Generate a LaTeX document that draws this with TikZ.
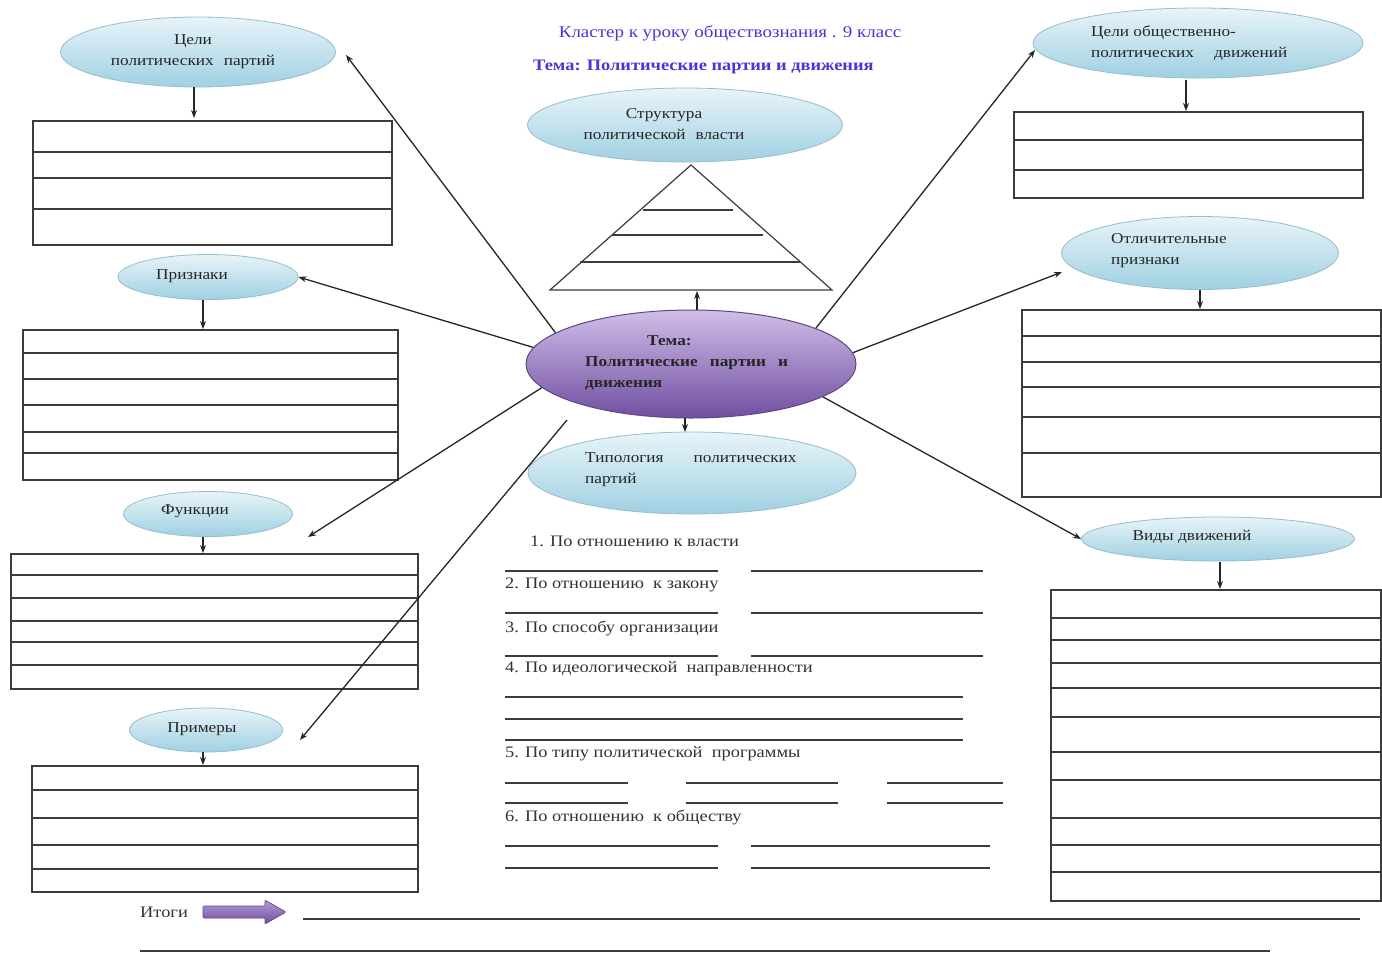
\documentclass[tikz,border=0pt]{standalone}
\usepackage{fontspec}
\setmainfont[FakeStretch=1.15]{Liberation Serif}
\usetikzlibrary{shapes.geometric,arrows.meta}
\definecolor{titleblue}{RGB}{78,52,214}
\definecolor{ellTop}{RGB}{232,244,249}
\definecolor{ellBot}{RGB}{160,208,226}
\definecolor{ellEdge}{RGB}{150,190,205}
\definecolor{purTop}{RGB}{208,190,232}
\definecolor{purBot}{RGB}{112,78,160}
\definecolor{purEdge}{RGB}{95,70,135}
\definecolor{lineg}{RGB}{60,60,60}
\begin{document}
\begin{tikzpicture}[x=1pt,y=-1pt,
  ell/.style={ellipse, draw=ellEdge, line width=0.8pt, top color=ellTop, bottom color=ellBot, inner sep=0pt},
  cell/.style={ellipse, draw=purEdge, line width=1pt, top color=purTop, bottom color=purBot, inner sep=0pt},
  txt/.style={font=\fontsize{15}{21}\selectfont, inner sep=0pt, text=black!85},
  ltxt/.style={font=\fontsize{16}{18}\selectfont, inner sep=0pt, anchor=west, text=black!80},
  arr/.style={-{Stealth[length=8pt,width=6pt]}, line width=1.3pt, black!85},
  tbl/.style={draw=lineg, line width=1.6pt, inner sep=0pt},
  rl/.style={draw=lineg, line width=1.6pt},
  wl/.style={draw=lineg, line width=1.4pt}
]
\useasboundingbox[fill=white] (0,0) rectangle (1382,954);

% titles
\node[font=\fontsize{16.5}{18}\selectfont, text=titleblue, inner sep=0pt] (title1) at (730,33) {Кластер к уроку обществознания . 9 класс};
\node[font=\fontsize{16}{18}\selectfont\bfseries, text=titleblue, inner sep=0pt, anchor=west] (title2) at (533,67) {Тема: Политические партии и движения};

% ellipses
\node[ell, minimum width=275pt, minimum height=70pt] (e1) at (198,52) {};
\node[txt, align=center] (t1) at (193,52) {Цели\\политических\hspace{10pt}партий};
\node[ell, minimum width=180pt, minimum height=45pt] (e2) at (208,277) {};
\node[txt] (t2) at (192,276) {Признаки};
\node[ell, minimum width=169pt, minimum height=45pt] (e3) at (208,514) {};
\node[txt] (t3) at (195,511) {Функции};
\node[ell, minimum width=153pt, minimum height=44pt] (e4) at (206,730) {};
\node[txt] (t4) at (202,729) {Примеры};
\node[ell, minimum width=315pt, minimum height=74pt] (e5) at (685,125) {};
\node[txt, align=center] (t5) at (664,124) {Структура\\политической\hspace{10pt}власти};
\node[cell, minimum width=330pt, minimum height=108pt] (c) at (691,364) {};
\node[txt, align=left, font=\fontsize{15}{21}\selectfont\bfseries, anchor=west] (tc) at (585,363) {\hspace*{62pt}Тема:\\Политические\hspace{12pt}партии\hspace{12pt}и\\движения};
\node[ell, minimum width=328pt, minimum height=82pt] (ty) at (692,473) {};
\node[txt, align=left, anchor=west] (tty) at (585,470) {Типология\hspace{30pt}политических\\партий};
\node[ell, minimum width=330pt, minimum height=70pt] (e8) at (1198,43) {};
\node[txt, align=left, anchor=west] (t8) at (1091,43) {Цели общественно-\\политических\hspace{20pt}движений};
\node[ell, minimum width=277pt, minimum height=73pt] (e9) at (1200,253) {};
\node[txt, align=left, anchor=west] (t9) at (1111,251) {Отличительные\\признаки};
\node[ell, minimum width=273pt, minimum height=44pt] (e10) at (1218,539) {};
\node[txt] (t10) at (1192,537) {Виды движений};

% triangle
\coordinate (tA) at (691,165);
\coordinate (tL) at (550,290);
\coordinate (tR) at (832,290);
\draw[line width=1.2pt, lineg, fill=white] (tA) -- (tL) -- (tR) -- cycle;
\draw[rl] (643,210) -- (733,210);
\draw[rl] (612,235) -- (763,235);
\draw[rl] (580,262) -- (800,262);
\coordinate (tribase) at (697,291);

% tables
\node[tbl, anchor=north west, minimum width=359pt, minimum height=124pt] (tabA) at (32,120) {};
\foreach \y in {152,178,209} \draw[rl] (32,\y) -- (391,\y);
\node[tbl, anchor=north west, minimum width=375pt, minimum height=150pt] (tabB) at (22,329) {};
\foreach \y in {353,379,405,432,453} \draw[rl] (22,\y) -- (397,\y);
\node[tbl, anchor=north west, minimum width=407pt, minimum height=135pt] (tabC) at (10,553) {};
\foreach \y in {575,598,621,642,665} \draw[rl] (10,\y) -- (417,\y);
\node[tbl, anchor=north west, minimum width=386pt, minimum height=126pt] (tabD) at (31,765) {};
\foreach \y in {790,818,845,869} \draw[rl] (31,\y) -- (417,\y);
\node[tbl, anchor=north west, minimum width=349pt, minimum height=86pt] (tabE) at (1013,111) {};
\foreach \y in {140,170} \draw[rl] (1013,\y) -- (1362,\y);
\node[tbl, anchor=north west, minimum width=359pt, minimum height=187pt] (tabF) at (1021,309) {};
\foreach \y in {336,362,387,417,453} \draw[rl] (1021,\y) -- (1380,\y);
\node[tbl, anchor=north west, minimum width=330pt, minimum height=311pt] (tabG) at (1050,589) {};
\foreach \y in {618,640,663,688,717,752,780,818,845,872} \draw[rl] (1050,\y) -- (1380,\y);

% arrows ellipse -> table
\draw[arr] (e1.south -| 194,0) -- (194,118);
\draw[arr] (203,300) -- (tabB.north -| 203,0);
\draw[arr] (203,537) -- (tabC.north -| 203,0);
\draw[arr] (203,752) -- (tabD.north -| 203,0);
\draw[arr] (1186,80) -- (tabE.north -| 1186,0);
\draw[arr] (1200,290) -- (tabF.north -| 1200,0);
\draw[arr] (1220,562) -- (tabG.north -| 1220,0);

% arrows from centre
\coordinate (p1) at (346,55);
\coordinate (p3) at (308,537);
\coordinate (p4) at (300,740);
\coordinate (p8) at (1035,50);
\coordinate (p9) at (1062,272);
\draw[arr] (c.167) -- (p1);
\draw[arr] (c.174) -- (e2.east);
\draw[arr] (c.189) -- (p3);
\draw[arr] (567,420) -- (p4);
\draw[arr] (697,310) -- (tribase);
\draw[arr] (685,418) -- (685,432);
\draw[arr] (c.16) -- (p8);
\draw[arr] (c.4) -- (p9);
\draw[arr] (c.346) -- (e10.west);

% typology list
\node[ltxt] (l1) at (530,541) {1. По отношению к власти};
\node[ltxt] (l2) at (505,585) {2. По отношению\ \ к закону};
\node[ltxt] (l3) at (505,628) {3. По способу организации};
\node[ltxt] (l4) at (505,669) {4. По идеологической\ \ направленности};
\node[ltxt] (l5) at (505,754) {5. По типу политической\ \ программы};
\node[ltxt] (l6) at (505,817) {6. По отношению\ \ к обществу};
\foreach \y in {571,613,656} {\draw[wl] (505,\y) -- (718,\y); \draw[wl] (751,\y) -- (983,\y);}
\foreach \y in {697,719,740} \draw[wl] (505,\y) -- (963,\y);
\foreach \y in {783,803} {\draw[wl] (505,\y) -- (628,\y); \draw[wl] (686,\y) -- (838,\y); \draw[wl] (887,\y) -- (1003,\y);}
\foreach \y in {846,868} {\draw[wl] (505,\y) -- (718,\y); \draw[wl] (751,\y) -- (990,\y);}

% results
\node[ltxt] (itog) at (140,912) {Итоги};
\draw[draw=purEdge, line width=0.6pt, top color=purTop!70!purBot, bottom color=purBot, rounded corners=1pt]
  (203,906) -- (265,906) -- (265,900) -- (286,912) -- (265,924) -- (265,918) -- (203,918) -- cycle;
\draw[wl] (303,919) -- (1360,919);
\draw[wl] (140,951) -- (1270,951);
\end{tikzpicture}
\end{document}
